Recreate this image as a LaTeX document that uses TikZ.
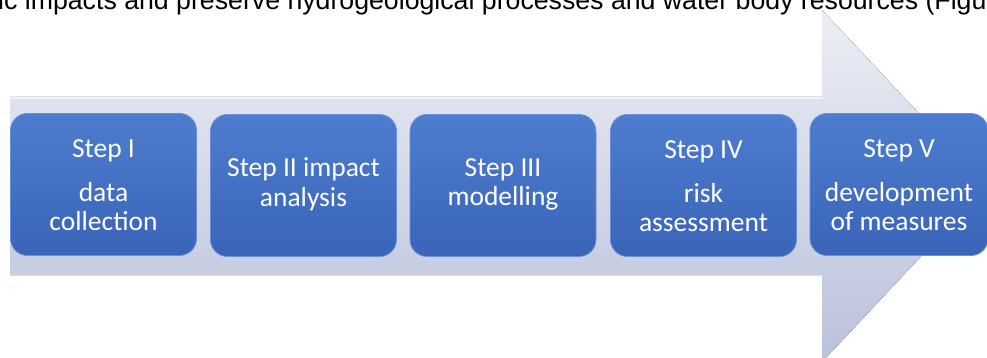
\documentclass[tikz,border=0pt]{standalone}
\usepackage{fontspec}
\setmainfont{Carlito}
\newfontfamily\captionfont{Liberation Sans}
\definecolor{boxtop}{HTML}{4D7DCE}
\definecolor{boxbot}{HTML}{3A64B8}
\definecolor{boxedge}{HTML}{6890D6}
\definecolor{arrtop}{HTML}{ECEEF5}
\definecolor{arrbot}{HTML}{BAC1DB}
\begin{document}
\begin{tikzpicture}[x=1pt,y=-1pt,
  stepbox/.style={rounded corners=17pt, top color=boxtop, bottom color=boxbot,
    draw=boxedge, line width=0.8pt, minimum width=186pt, minimum height=142pt,
    inner sep=0pt},
  steptext/.style={text=white, align=center, inner sep=0pt,
    font=\fontsize{27.5}{29.5}\selectfont}]
\useasboundingbox (0,0) rectangle (987,358);
\clip (0,0) rectangle (987,358);
% line of running text above the figure, cut at the top
\node[anchor=base west, inner sep=0pt, font=\captionfont\fontsize{26.7}{30}\selectfont]
  (caption) at (-2,9.5) {ic impacts and preserve hydrogeological processes and water body resources (Figu};
% broad process arrow
\fill[top color=arrtop, bottom color=arrbot, shading angle=0]
  (10,97) -- (822,97) -- (822,10) -- (987,186) -- (822,362) -- (822,275) -- (10,275) -- cycle;
\draw[white, opacity=0.6, line width=1.2pt] (10,98) -- (822,98);
% the five steps
\node[stepbox] (s1) at (103.5,184.5) {};
\node[stepbox] (s2) at (303.5,185.5) {};
\node[stepbox] (s3) at (503,185.5) {};
\node[stepbox] (s4) at (703.5,185.5) {};
\node[stepbox, minimum width=178pt] (s5) at (899,184.5) {};
\node[steptext] (t1a) at (s1.center) [yshift=34pt] {Step I};
\node[steptext] (t1b) at (s1.center) [yshift=-22pt] {data\\collection};
\node[steptext] (t2) at (s2.center) [yshift=1pt] {Step II impact\\analysis};
\node[steptext] (t3) at (s3.center) [yshift=1pt] {Step III\\modelling};
\node[steptext] (t4a) at (s4.center) [yshift=34pt] {Step IV};
\node[steptext] (t4b) at (s4.center) [yshift=-22pt] {risk\\assessment};
\node[steptext] (t5a) at (s5.center) [yshift=34pt] {Step V};
\node[steptext] (t5b) at (s5.center) [yshift=-22pt] {development\\of measures};
\end{tikzpicture}
\end{document}
